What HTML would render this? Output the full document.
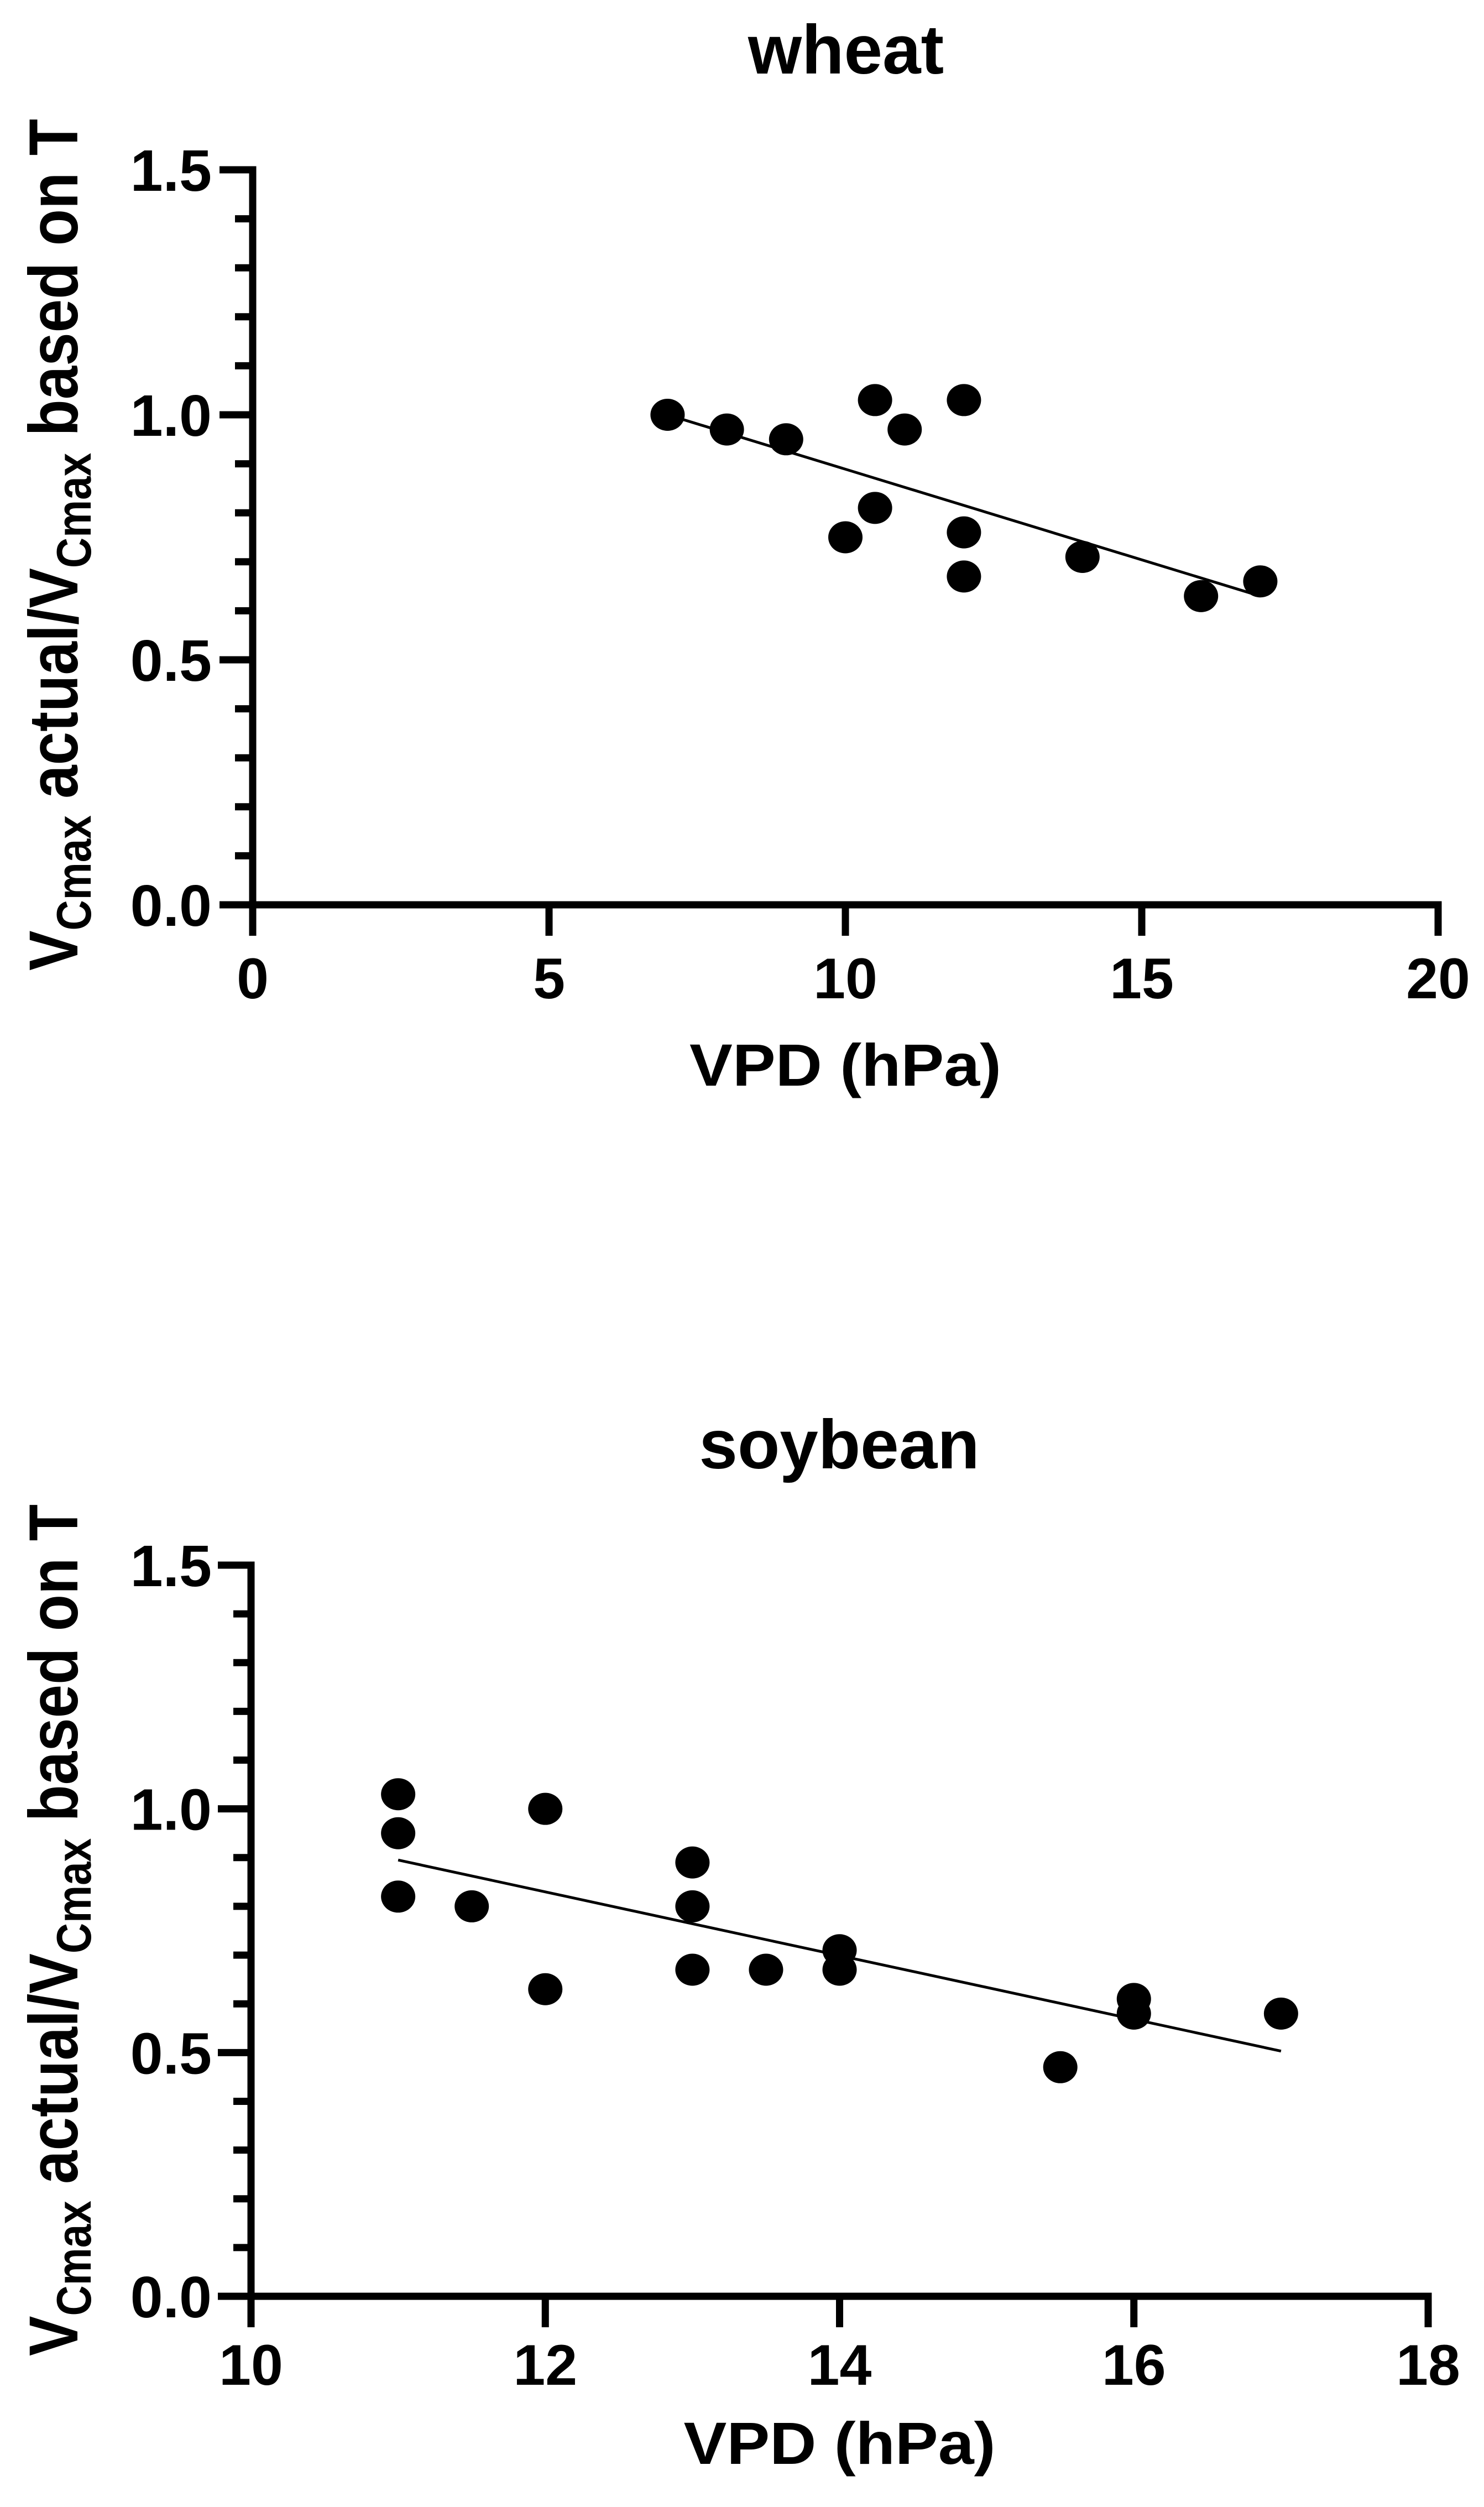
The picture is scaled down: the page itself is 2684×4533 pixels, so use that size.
<!DOCTYPE html>
<html><head><meta charset="utf-8"><style>
html,body{margin:0;padding:0;background:#fff;}
svg{display:block;}
text{font-family:"Liberation Sans",Arial,sans-serif;font-weight:bold;fill:#000;}
</style></head>
<body>
<svg id="fig" width="2684" height="4533" viewBox="0 0 2684 4533" xmlns="http://www.w3.org/2000/svg">
<rect width="2684" height="4533" fill="#fff"/>
</svg>
<script>
// wheat data
const wheatX = [7, 8, 9, 10, 10.5, 10.5, 11, 12, 12, 12, 14, 16, 17];
const wheatY = [1.0, 0.97, 0.95, 0.75, 1.03, 0.81, 0.97, 1.03, 0.76, 0.67, 0.71, 0.63, 0.66];
const wheatFitX = [7, 17];
const wheatFitY = [1.0, 0.63];
const wheatXTicks = [0, 5, 10, 15, 20];
// soybean data
const soyX = [11, 11, 11, 11.5, 12, 12, 13, 13, 13, 13.5, 14, 14, 15.5, 16, 16, 17];
const soyY = [1.03, 0.95, 0.82, 0.80, 1.00, 0.63, 0.89, 0.80, 0.67, 0.67, 0.71, 0.67, 0.47, 0.61, 0.58, 0.58];
const soyFitX = [11, 17];
const soyFitY = [0.895, 0.503];
const soyXTicks = [10, 12, 14, 16, 18];
const yTickLabels = ["0.0", "0.5", "1.0", "1.5"];
const yTicks = [0, 0.5, 1.0, 1.5];

const NS = "http://www.w3.org/2000/svg";
const svg = document.getElementById('fig');
function mk(tag, attrs, parent) {
  const e = document.createElementNS(NS, tag);
  for (const k in attrs) e.setAttribute(k, attrs[k]);
  (parent || svg).appendChild(e);
  return e;
}

function panel(cfg) {
  const g = mk('g', {});
  
  
  const sx = v => cfg.x0 + (v - cfg.xmin) / (cfg.xmax - cfg.xmin) * (cfg.x1 - cfg.x0);
  const sy = v => cfg.y0 - v / 1.5 * (cfg.y0 - cfg.y1);
  const t = mk('text', {x: cfg.titleX, y: cfg.titleY, 'text-anchor': 'middle', 'font-size': 125}, g);
  t.textContent = cfg.name;
  
  
  const ax = mk('path', {d: `M${cfg.x0},${cfg.y1} V${cfg.y0} H${cfg.x1}`, stroke: '#000', 'stroke-width': 13, fill: 'none', 'stroke-linecap': 'square'}, g);
  
  
  for (let i = 0; i <= 15; i++) {
    const v = i / 10;
    const major = i % 5 === 0;
    const tk = mk('line', {x1: cfg.x0 - (major ? 60 : 32), x2: cfg.x0, y1: sy(v), y2: sy(v), stroke: '#000', 'stroke-width': 13}, g);
    
    
  }
  yTicks.forEach((v, i) => {
    const l = mk('text', {x: 383, y: sy(v) + 38, 'text-anchor': 'end', 'font-size': 106}, g);
    l.textContent = yTickLabels[i];
    
    
  });
  cfg.xticks.forEach(v => {
    const tk = mk('line', {x1: sx(v), x2: sx(v), y1: cfg.y0, y2: cfg.y0 + 56, stroke: '#000', 'stroke-width': 13}, g);
    
    
    const l = mk('text', {x: sx(v), y: cfg.tickY, 'text-anchor': 'middle', 'font-size': 104}, g);
    l.textContent = String(v);
    
    
  });
  const xl = mk('text', {x: (cfg.x0 + cfg.x1) / 2, y: cfg.xlabY, 'text-anchor': 'middle', 'font-size': 108, textLength: 564, lengthAdjust: 'spacingAndGlyphs'}, g);
  xl.textContent = 'VPD (hPa)';
  
  
  const yl = mk('text', {x: 0, y: 0, 'text-anchor': 'middle', 'font-size': 125, transform: `translate(140,${cfg.ylabC}) rotate(-90)`, textLength: 1540, lengthAdjust: 'spacingAndGlyphs'}, g);
  yl.innerHTML = 'V<tspan font-size="88" dy="24">Cmax</tspan><tspan dy="-24"> actual/V</tspan><tspan font-size="88" dy="24">Cmax</tspan><tspan dy="-24"> based on T</tspan>';
  
  
  const fl = mk('line', {x1: sx(cfg.fx[0]), y1: sy(cfg.fy[0]), x2: sx(cfg.fx[1]), y2: sy(cfg.fy[1]), stroke: '#000', 'stroke-width': 5}, g);
  
  
  cfg.px.forEach((xv, i) => {
    const c = mk('ellipse', {cx: sx(xv), cy: sy(cfg.py[i]), rx: 31, ry: 29, fill: '#000'}, g);
    
    
  });
}

panel({name: 'wheat', x0: 457, x1: 2601, xmin: 0, xmax: 20, y0: 1636, y1: 307,
  titleX: 1530, titleY: 133, tickY: 1805, xlabY: 1963, ylabC: 985,
  xticks: wheatXTicks, px: wheatX, py: wheatY, fx: wheatFitX, fy: wheatFitY});
panel({name: 'soybean', x0: 454, x1: 2583, xmin: 10, xmax: 18, y0: 4152, y1: 2830,
  titleX: 1518, titleY: 2655, tickY: 4312, xlabY: 4455, ylabC: 3490,
  xticks: soyXTicks, px: soyX, py: soyY, fx: soyFitX, fy: soyFitY});
</script>
</body></html>
